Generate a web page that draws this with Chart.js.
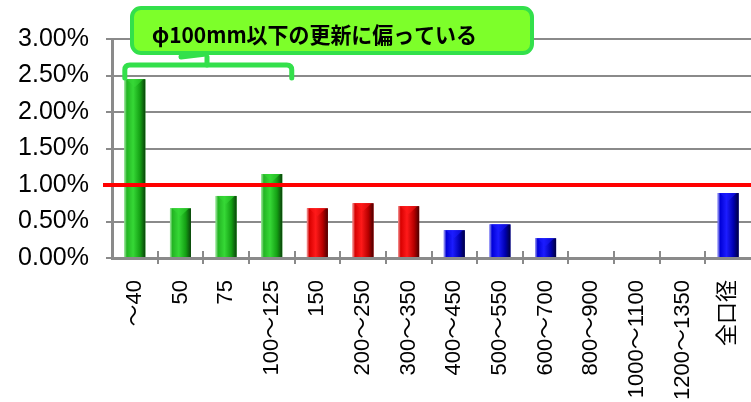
<!DOCTYPE html>
<html>
<head>
<meta charset="utf-8">
<script src="https://cdn.jsdelivr.net/npm/chart.js@4/dist/chart.umd.min.js"></script>
<style>
  html, body { margin: 0; padding: 0; background: #fff; }
  #wrap { width: 751px; height: 402px; }
</style>
</head>
<body>
<div id="wrap"><canvas id="c" width="751" height="402"></canvas></div>
<script>
// 口径別の更新率
const categories = ['～40', '50', '75', '100～125', '150', '200～250', '300～350',
  '400～450', '500～550', '600～700', '800～900', '1000～1100', '1200～1350', '全口径'];
const renewalRate = [2.45, 0.68, 0.85, 1.15, 0.68, 0.75, 0.71, 0.38, 0.46, 0.27, 0, 0, 0, 0.89];
const sizeGroup = ['small', 'small', 'small', 'small', 'mid', 'mid', 'mid',
  'large', 'large', 'large', 'large', 'large', 'large', 'large'];
const targetRate = 1.0;
const yMin = 0, yMax = 3, yStep = 0.5;
const calloutText = 'φ100mm以下の更新に偏っている';

// shading per group: [left rim, mid, highlight, shade, right edge]
const palette = {
  small: ['#a8e8a8', '#23b523', '#36d836', '#14a014', '#0a420a'],
  mid:   ['#f0a0a0', '#d80000', '#ff1a1a', '#b80000', '#4a0000'],
  large: ['#a8a8f0', '#0000d8', '#1c1cff', '#0000b0', '#00003e']
};

const labelFont = "'Liberation Sans', Arial, 'Noto Sans CJK JP', sans-serif";

const decor = {
  id: 'decor',
  afterDatasetsDraw(chart) {
    const ctx = chart.ctx;
    const area = chart.chartArea;
    const xs = chart.scales.x, ys = chart.scales.y;
    const meta = chart.getDatasetMeta(0);

    // cylinder-like shading on each bar
    meta.data.forEach((el, i) => {
      const p = el.getProps(['x', 'y', 'base', 'width'], true);
      const h = p.base - p.y;
      if (h < 0.5) return;
      const left = p.x - p.width / 2, right = p.x + p.width / 2;
      const c = palette[sizeGroup[i]];
      const g = ctx.createLinearGradient(left, 0, right, 0);
      g.addColorStop(0, c[0]);
      g.addColorStop(0.12, c[1]);
      g.addColorStop(0.42, c[2]);
      g.addColorStop(0.75, c[3]);
      g.addColorStop(1, c[4]);
      ctx.save();
      ctx.fillStyle = g;
      ctx.fillRect(left, p.y, p.width, h);
      // lighter cap on top
      ctx.globalAlpha = 0.55;
      ctx.fillStyle = c[2];
      ctx.beginPath();
      ctx.moveTo(left + 2, p.y);
      ctx.lineTo(right - 2, p.y);
      ctx.lineTo(p.x, p.y + Math.min(8, h));
      ctx.closePath();
      ctx.fill();
      ctx.restore();
    });

    // category ticks crossing the x axis
    ctx.save();
    ctx.strokeStyle = '#8a8a8a';
    ctx.lineWidth = 2;
    const n = categories.length;
    const step = (xs.right - xs.left) / n;
    for (let i = 1; i < n; i++) {
      const x = Math.round(xs.left + i * step);
      ctx.beginPath();
      ctx.moveTo(x, area.bottom - 7);
      ctx.lineTo(x, area.bottom + 6);
      ctx.stroke();
    }
    ctx.restore();

    // 1.00% reference line
    const yr = ys.getPixelForValue(targetRate);
    ctx.save();
    ctx.strokeStyle = '#ff0000';
    ctx.lineWidth = 4;
    ctx.beginPath();
    ctx.moveTo(area.left - 9, yr);
    ctx.lineTo(chart.width, yr);
    ctx.stroke();
    ctx.restore();

    // bracket over the small diameters
    const bl = xs.getPixelForValue(0) - 10;
    const br = xs.getPixelForValue(3) + 20;
    const bt = 65, bb = 78, mid = 207;
    ctx.save();
    ctx.strokeStyle = '#33e04b';
    ctx.lineWidth = 5;
    ctx.lineCap = 'round';
    ctx.lineJoin = 'round';
    ctx.beginPath();
    ctx.moveTo(bl, bb);
    ctx.lineTo(bl, bt + 5);
    ctx.quadraticCurveTo(bl, bt, bl + 5, bt);
    ctx.lineTo(br - 5, bt);
    ctx.quadraticCurveTo(br, bt, br, bt + 5);
    ctx.lineTo(br, bb);
    ctx.stroke();
    ctx.beginPath();
    ctx.moveTo(mid, bt);
    ctx.lineTo(mid, 57);
    ctx.stroke();
    ctx.beginPath();
    ctx.moveTo(181, 57);
    ctx.lineTo(206, 54);
    ctx.stroke();

    // callout box
    ctx.fillStyle = '#7dff2a';
    ctx.lineWidth = 4;
    ctx.beginPath();
    ctx.roundRect(132, 8, 400, 45, 9);
    ctx.fill();
    ctx.stroke();
    ctx.fillStyle = '#000';
    ctx.font = "bold 22px 'Noto Sans CJK JP', sans-serif";
    ctx.textBaseline = 'middle';
    ctx.textAlign = 'left';
    ctx.fillText(calloutText, 152, 35, 325);
    ctx.restore();
  }
};

new Chart(document.getElementById('c'), {
  type: 'bar',
  data: {
    labels: categories,
    datasets: [{
      data: renewalRate,
      backgroundColor: sizeGroup.map(g => palette[g][2]),
      borderWidth: 0,
      categoryPercentage: 1,
      barPercentage: 0.46
    }]
  },
  options: {
    responsive: false,
    animation: false,
    devicePixelRatio: 1,
    layout: { padding: { top: 39, right: 0, bottom: 0, left: 0 } },
    plugins: { legend: { display: false }, tooltip: { enabled: false } },
    scales: {
      x: {
        grid: { display: false },
        border: { display: true, color: '#8a8a8a', width: 3 },
        ticks: {
          autoSkip: false,
          minRotation: 90,
          maxRotation: 90,
          padding: 14,
          color: '#000',
          font: { family: labelFont, size: 22 }
        },
        afterFit(scale) {
          scale.height = 144;
          scale.paddingLeft = 0;
          scale.paddingRight = 0;
        }
      },
      y: {
        min: yMin,
        max: yMax,
        grid: { color: '#8a8a8a', lineWidth: 2, tickLength: 6 },
        border: { display: true, color: '#8a8a8a', width: 3 },
        ticks: {
          stepSize: yStep,
          padding: 17,
          color: '#000',
          font: { family: labelFont, size: 25 },
          callback: v => v.toFixed(2) + '%'
        },
        afterFit(scale) { scale.width = 112; }
      }
    }
  },
  plugins: [decor]
});
</script>
</body>
</html>
